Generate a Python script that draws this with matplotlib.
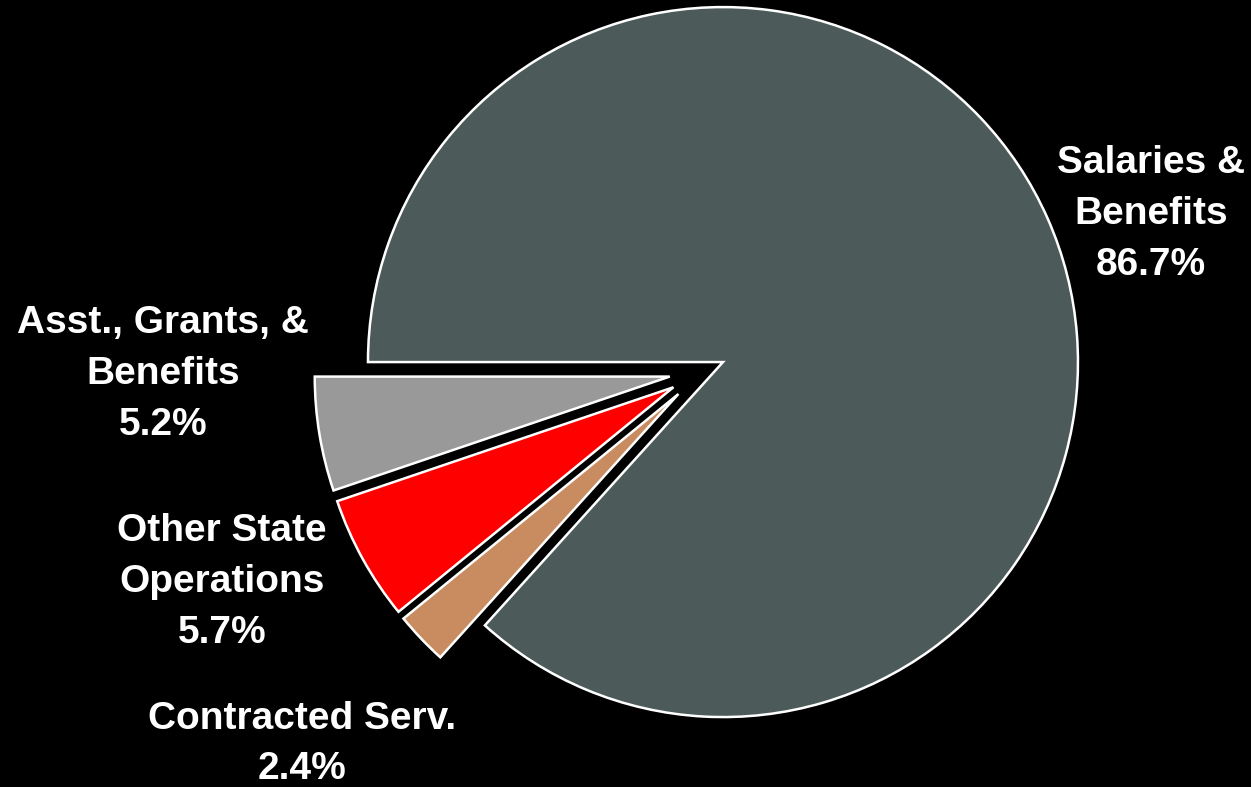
import matplotlib
matplotlib.use("Agg")
import matplotlib.pyplot as plt

# data
categories = ["Salaries &\nBenefits", "Contracted Serv.", "Other State\nOperations", "Asst., Grants, &\nBenefits"]
values = [86.7, 2.4, 5.7, 5.2]
colors = ["#4d5a5a", "#c98c60", "#ff0000", "#999999"]
# explode offsets (in pixels, since the axes use pixel units)
explode = [22.5, 33.1, 33.1, 33.1]

# label centres in pixel space (x, y from top)
label_pos = [(1151, 214), (302, 744), (222, 582), (163, 374)]

W, H = 1251, 787
fig = plt.figure(figsize=(W / 100, H / 100), dpi=100, facecolor="black")
ax = fig.add_axes([0, 0, 1, 1])
ax.set_facecolor("black")

ax.pie(values, colors=colors, explode=explode, startangle=180, counterclock=False,
       center=(702.4, H - 371.2), radius=355,
       wedgeprops=dict(edgecolor="white", linewidth=1.8))

fam = ["Liberation Sans Narrow", "Liberation Sans", "DejaVu Sans"]
for lab, v, (x, y) in zip(categories, values, label_pos):
    ax.text(x, H - y, lab + "\n" + f"{v:.1f}%", ha="center", va="center",
            multialignment="center", color="white", fontsize=28, fontweight="bold",
            family=fam, linespacing=1.52)

ax.set_xlim(0, W)
ax.set_ylim(0, H)
ax.set_aspect("equal")
ax.axis("off")

fig.savefig("out.png", dpi=100, facecolor="black")
